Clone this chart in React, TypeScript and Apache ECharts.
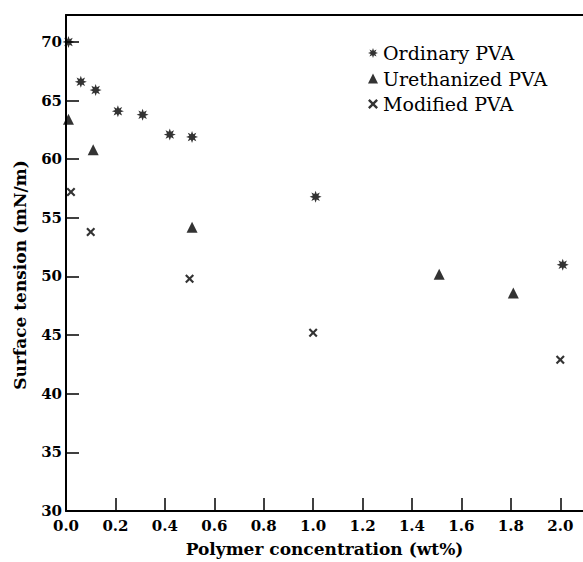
import { useEffect, useRef } from 'react';
import * as echarts from 'echarts';

// Data (x = polymer concentration wt%, y = surface tension mN/m)
const ordinaryPVA: number[][] = [
  [0.01, 70.0], [0.06, 66.6], [0.12, 65.9], [0.21, 64.1], [0.31, 63.8],
  [0.42, 62.1], [0.51, 61.9], [1.01, 56.8], [2.01, 51.0],
];
const urethanizedPVA: number[][] = [
  [0.01, 63.4], [0.11, 60.8], [0.51, 54.2], [1.51, 50.2], [1.81, 48.6],
];
const modifiedPVA: number[][] = [
  [0.02, 57.2], [0.1, 53.8], [0.5, 49.8], [1.0, 45.2], [2.0, 42.9],
];
const seriesNames = ['Ordinary PVA', 'Urethanized PVA', 'Modified PVA'];
const xTicks = [0, 0.2, 0.4, 0.6, 0.8, 1.0, 1.2, 1.4, 1.6, 1.8, 2.0];
const yTicks = [30, 35, 40, 45, 50, 55, 60, 65, 70];
const xTitle = 'Polymer concentration (wt%)';
const yTitle = 'Surface tension (mN/m)';

function starSymbol(): string {
  let d = '';
  for (let i = 0; i < 16; i++) {
    const a = (i * Math.PI) / 8 - Math.PI / 2;
    const r = i % 2 === 0 ? 1 : 0.5;
    const x = 1 + r * Math.cos(a);
    const y = 1 + r * Math.sin(a);
    d += (i === 0 ? 'M' : 'L') + x.toFixed(3) + ',' + y.toFixed(3);
  }
  return 'path://' + d + 'Z';
}
const crossSymbol =
  'path://M0,0.17L0.17,0L0.5,0.33L0.83,0L1,0.17L0.67,0.5L1,0.83L0.83,1L0.5,0.67L0.17,1L0,0.83L0.33,0.5Z';

const FONT = 'DejaVu Serif';

export default function App() {
  const ref = useRef<HTMLDivElement>(null);
  useEffect(() => {
    if (!ref.current) return;
    const chart = echarts.init(ref.current, null, { renderer: 'svg' });
    const axisLine = { show: true, onZero: false, lineStyle: { color: '#000', width: 2 } };
    chart.setOption({
      animation: false,
      backgroundColor: '#fff',
      grid: { left: 66, top: 15, right: 0, bottom: 51 },
      legend: {
        orient: 'vertical',
        left: 363,
        top: 38,
        itemWidth: 10,
        itemHeight: 10,
        itemGap: 5.5,
        selectedMode: false,
        textStyle: { fontFamily: FONT, fontSize: 19, color: '#000', lineHeight: 20 },
        data: seriesNames,
      },
      xAxis: [
        {
          type: 'value',
          min: 0,
          max: 2.092,
          position: 'bottom',
          axisLine,
          axisTick: {
            show: true,
            inside: true,
            length: 13,
            customValues: xTicks,
            lineStyle: { color: '#000', width: 1.5 },
          },
          axisLabel: {
            customValues: xTicks,
            formatter: (v: number) => v.toFixed(1),
            color: '#000',
            fontFamily: FONT,
            fontWeight: 'bold',
            fontSize: 15,
            lineHeight: 13,
            margin: 8,
          },
          splitLine: { show: false },
          name: xTitle,
          nameLocation: 'middle',
          nameGap: 29,
          nameTextStyle: { fontFamily: FONT, fontWeight: 'bold', fontSize: 17, color: '#000' },
        },
        {
          type: 'value',
          min: 0,
          max: 2.092,
          position: 'top',
          axisLine,
          axisTick: { show: false },
          axisLabel: { show: false },
          splitLine: { show: false },
        },
      ],
      yAxis: {
        type: 'value',
        min: 30,
        max: 72.3,
        axisLine,
        axisTick: {
          show: true,
          inside: true,
          length: 13,
          customValues: yTicks,
          lineStyle: { color: '#000', width: 1.5 },
        },
        axisLabel: {
          customValues: yTicks,
          color: '#000',
          fontFamily: FONT,
          fontWeight: 'bold',
          fontSize: 15,
          lineHeight: 13,
          margin: 4,
        },
        splitLine: { show: false },
        name: yTitle,
        nameLocation: 'middle',
        nameGap: 38,
        nameTextStyle: {
          fontFamily: FONT,
          fontWeight: 'bold',
          fontSize: 17,
          color: '#000',
          padding: [0, 24, 0, 0],
        },
      },
      series: [
        {
          name: seriesNames[0],
          type: 'scatter',
          data: ordinaryPVA,
          symbol: starSymbol(),
          symbolSize: 12,
          itemStyle: { color: '#000' },
        },
        {
          name: seriesNames[1],
          type: 'scatter',
          data: urethanizedPVA,
          symbol: 'triangle',
          symbolSize: 11,
          itemStyle: { color: '#000' },
        },
        {
          name: seriesNames[2],
          type: 'scatter',
          data: modifiedPVA,
          symbol: crossSymbol,
          symbolSize: 9,
          itemStyle: { color: '#000' },
        },
      ],
    });
    return () => chart.dispose();
  }, []);
  return (
    <div
      ref={ref}
      style={{ position: 'fixed', left: 0, top: 0, width: 583, height: 562, background: '#fff' }}
    />
  );
}
